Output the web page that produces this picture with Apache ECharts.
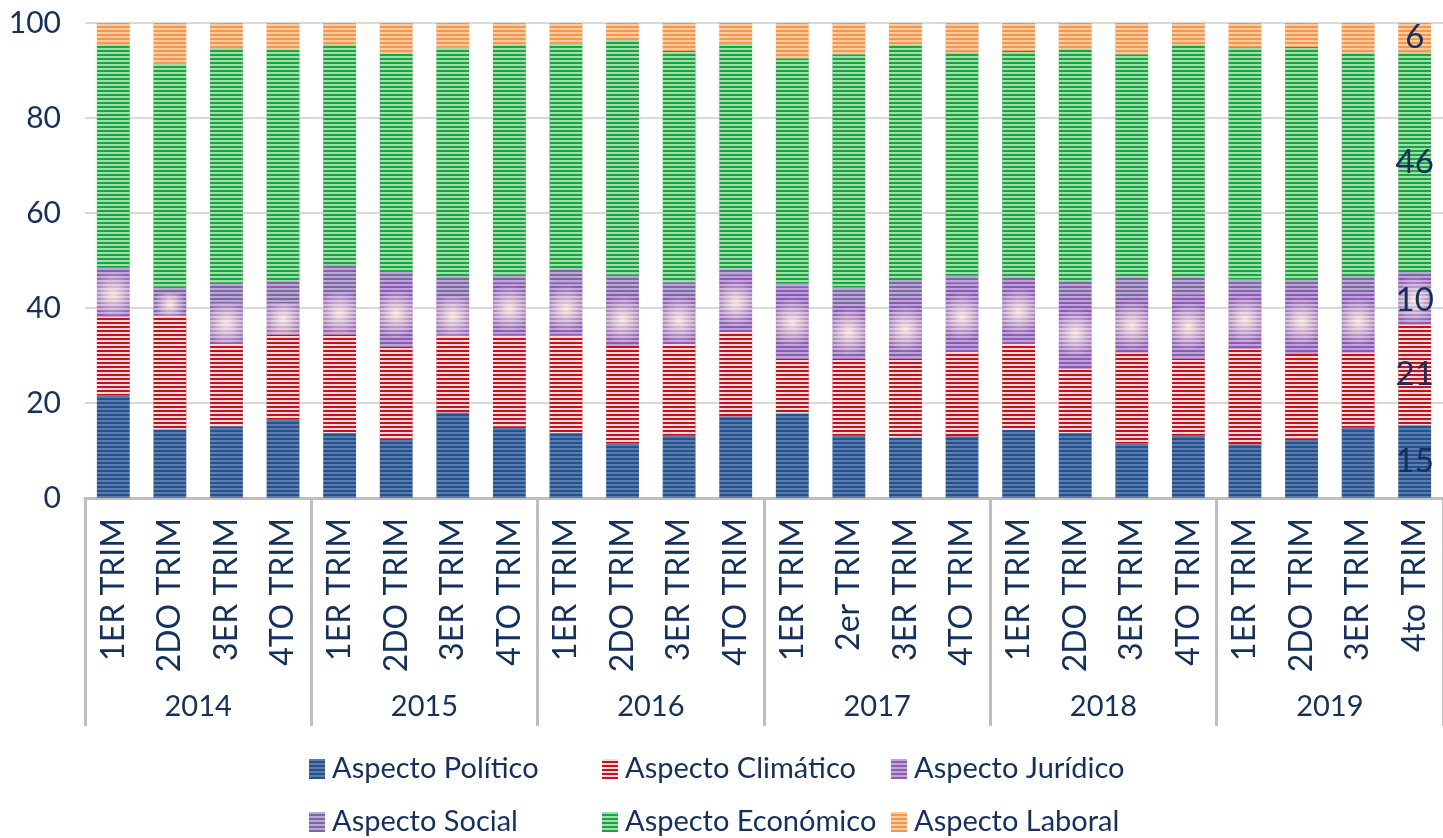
<!DOCTYPE html>
<html>
<head>
    <meta charset="utf-8">
    <script src="https://cdn.jsdelivr.net/npm/echarts@6/dist/echarts.min.js"></script>
    <style>
        * { margin: 0; padding: 0; }
        #main { width: 1443px; height: 838px; background: #fff; }
    </style>
</head>
<body>
<div id="main"></div>
<script type="text/javascript">
    // trimestres y años
    let trimestres = [
        '1ER TRIM', '2DO TRIM', '3ER TRIM', '4TO TRIM',
        '1ER TRIM', '2DO TRIM', '3ER TRIM', '4TO TRIM',
        '1ER TRIM', '2DO TRIM', '3ER TRIM', '4TO TRIM',
        '1ER TRIM', '2er TRIM', '3ER TRIM', '4TO TRIM',
        '1ER TRIM', '2DO TRIM', '3ER TRIM', '4TO TRIM',
        '1ER TRIM', '2DO TRIM', '3ER TRIM', '4to TRIM'
    ];
    let anios = ['2014', '2015', '2016', '2017', '2018', '2019'];
    let yTicks = [0, 20, 40, 60, 80, 100];

    // porcentajes
    let politico   = [21.6, 14.4, 15.1, 16.6, 13.7, 12.5, 18.0, 15.0, 13.7, 11.5, 13.1, 17.2, 17.8, 13.2, 12.7, 13.0, 14.3, 13.7, 11.5, 13.2, 11.3, 12.5, 14.8, 15.3];
    let climatico  = [16.6, 24.0, 17.5, 17.8, 20.7, 19.4, 16.2, 19.2, 20.5, 20.6, 19.5, 17.9, 11.5, 16.1, 16.6, 17.9, 18.3, 13.5, 19.2, 16.1, 20.1, 17.8, 15.9, 21.3];
    let juridico   = [9.3, 4.7, 8.4, 6.6, 8.9, 13.8, 8.2, 11.2, 11.2, 11.0, 9.8, 12.0, 15.3, 11.2, 12.6, 14.5, 13.1, 15.0, 11.2, 13.6, 12.2, 13.7, 12.9, 10.0];
    let social     = [1.0, 1.4, 4.3, 4.7, 5.8, 2.1, 4.2, 1.6, 2.7, 3.9, 3.0, 1.0, 0.6, 3.8, 4.0, 1.4, 0.7, 3.5, 4.5, 3.5, 2.4, 2.1, 3.1, 1.0];
    let economico  = [47.0, 47.0, 49.4, 48.6, 46.4, 45.8, 48.2, 48.5, 47.6, 49.4, 48.7, 47.6, 47.4, 49.1, 49.5, 47.0, 47.7, 48.8, 47.0, 49.0, 48.9, 48.9, 47.0, 46.2];
    let laboral    = [4.5, 8.5, 5.3, 5.7, 4.5, 6.4, 5.2, 4.5, 4.3, 3.6, 5.9, 4.3, 7.4, 6.6, 4.6, 6.2, 5.9, 5.5, 6.6, 4.6, 5.1, 5.0, 6.3, 6.2];

    let textColor = '#13305e';
    let fontName = 'Lato, "Open Sans", sans-serif';

    function rayas(alpha) {
        return {
            symbol: 'rect',
            symbolSize: 1,
            dashArrayX: [1, 0],
            dashArrayY: [2, 2],
            rotation: 0,
            color: 'rgba(255,255,255,' + alpha + ')'
        };
    }

    function serie(nombre, datos, color, alpha, conEtiqueta) {
        return {
            name: nombre,
            type: 'bar',
            stack: 'total',
            barWidth: '58%',
            data: datos,
            itemStyle: {color: color, decal: rayas(alpha)},
            label: {
                show: conEtiqueta,
                position: 'inside',
                color: textColor,
                fontFamily: fontName,
                fontSize: 33,
                formatter: function (p) {
                    return p.dataIndex === datos.length - 1 ? Math.round(p.value) : '';
                }
            }
        };
    }

    let moradoGrad = {
        type: 'radial', x: 0.5, y: 0.5, r: 0.75,
        colorStops: [
            {offset: 0, color: '#f6e0d8'},
            {offset: 1, color: '#8a58b6'}
        ]
    };

    let myChart = echarts.init(document.getElementById('main'));

    // leyenda en 3 columnas
    let columnas = [
        {data: ['Aspecto Político', 'Aspecto Social'], left: 309},
        {data: ['Aspecto Climático', 'Aspecto Económico'], left: 602},
        {data: [{name: 'Aspecto Jurídico', itemStyle: {color: '#8e5bb5'}}, 'Aspecto Laboral'], left: 891}
    ];

    let option = {
        animation: false,
        textStyle: {fontFamily: fontName, color: textColor},
        grid: {left: 85, right: -14, top: 23, bottom: 340},
        xAxis: [
            {
                type: 'category',
                data: trimestres,
                axisLine: {lineStyle: {color: '#bfbfbf', width: 3}},
                axisTick: {show: false},
                axisLabel: {
                    interval: 0,
                    rotate: 90,
                    margin: 20,
                    color: textColor,
                    fontSize: 32,
                    fontFamily: fontName
                }
            },
            {
                type: 'category',
                data: anios,
                position: 'bottom',
                axisLine: {show: false},
                axisTick: {show: true, length: 228, lineStyle: {color: '#bfbfbf', width: 3}},
                axisLabel: {
                    margin: 194,
                    color: textColor,
                    fontSize: 29,
                    fontFamily: fontName
                }
            }
        ],
        yAxis: {
            type: 'value',
            min: yTicks[0],
            max: yTicks[yTicks.length - 1],
            interval: 20,
            axisLine: {show: false},
            axisTick: {show: false},
            splitLine: {lineStyle: {color: '#d9d9d9', width: 2}},
            axisLabel: {margin: 24, color: textColor, fontSize: 30, fontFamily: fontName}
        },
        legend: columnas.map(function (c) {
            return {
                data: c.data,
                left: c.left,
                top: 754,
                height: 120,
                orient: 'vertical',
                padding: 0,
                icon: 'rect',
                itemWidth: 16,
                itemHeight: 20,
                itemGap: 23,
                textStyle: {color: textColor, fontSize: 29, lineHeight: 30, fontFamily: fontName, padding: [0, 0, 0, 2]}
            };
        }),
        series: [
            serie('Aspecto Político', politico, '#24518f', 0.25, true),
            serie('Aspecto Climático', climatico, '#c8101a', 0.85, true),
            serie('Aspecto Jurídico', juridico, moradoGrad, 0.45, true),
            serie('Aspecto Social', social, '#8064a8', 0.45, false),
            serie('Aspecto Económico', economico, '#17a83a', 0.6, true),
            serie('Aspecto Laboral', laboral, '#f79646', 0.5, true)
        ]
    };

    myChart.setOption(option);
</script>
</body>
</html>
